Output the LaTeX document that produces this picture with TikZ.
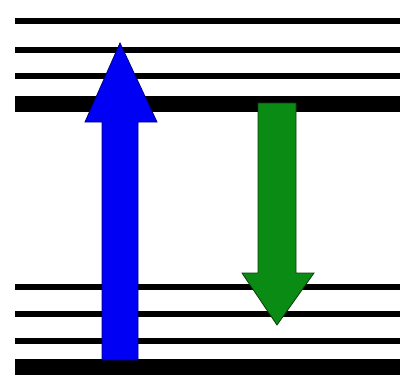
\documentclass[tikz,border=0pt]{standalone}
\begin{document}
\begin{tikzpicture}[x=1pt,y=-1pt,
  level/.style={draw=black,line width=6pt},
  mainlevel/.style={draw=black,line width=16pt},
  upfill/.style={fill={rgb,255:red,0;green,0;blue,245},draw={rgb,255:red,0;green,0;blue,120},line width=0.8pt,line join=miter},
  downfill/.style={fill={rgb,255:red,10;green,140;blue,20},draw={rgb,255:red,10;green,60;blue,10},line width=0.8pt,line join=miter}]
\useasboundingbox[fill=white] (0,0) rectangle (404,378);
% upper levels
\draw[level] (15,21) -- (400,21);
\draw[level] (15,50) -- (400,50);
\draw[level] (15,76) -- (400,76);
\draw[mainlevel] (15,104) -- (400,104);
% lower levels
\draw[level] (15,287) -- (400,287);
\draw[level] (15,314) -- (400,314);
\draw[level] (15,341) -- (400,341);
\draw[mainlevel] (15,367) -- (400,367);
% blue up arrow
\draw[upfill] (102,360) -- (102,122) -- (85,122) -- (120,43) -- (157,122) -- (138,122) -- (138,360) -- cycle;
% green down arrow
\draw[downfill] (258,103) -- (258,273) -- (242,273) -- (277,325) -- (314,273) -- (296,273) -- (296,103) -- cycle;
\end{tikzpicture}
\end{document}
